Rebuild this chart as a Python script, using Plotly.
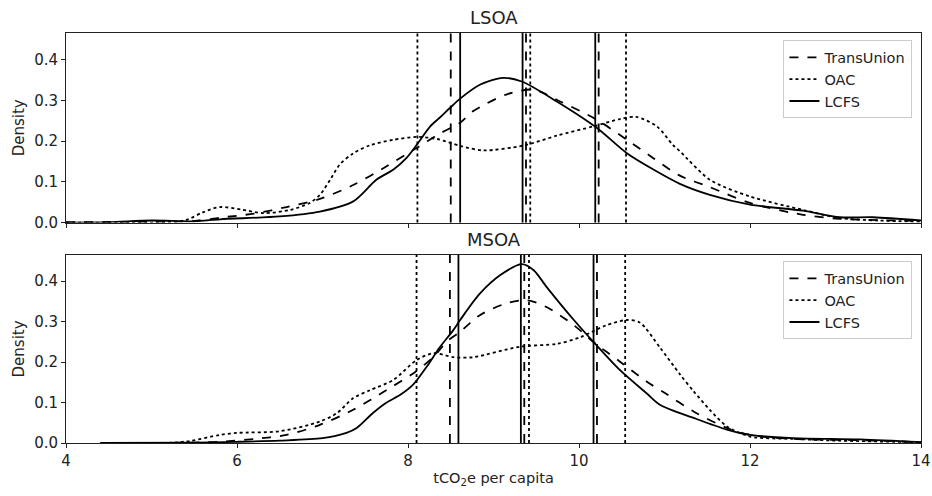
import plotly.graph_objects as go
from plotly.subplots import make_subplots

# ---------------- data ----------------
panels = ["LSOA", "MSOA"]
series_names = ["TransUnion", "OAC", "LCFS"]

# LSOA densities
lsoa_tu_x = [4.0, 5.0, 5.5, 5.8, 6.2, 6.58, 6.97, 7.36, 7.75, 8.10, 8.37, 8.61, 8.76, 9.15, 9.47, 9.78, 10.21, 10.56, 10.87, 11.18, 11.53, 12.0, 12.62, 13.05, 13.5, 14.0]
lsoa_tu_y = [0.001, 0.002, 0.004, 0.012, 0.022, 0.038, 0.058, 0.092, 0.138, 0.183, 0.218, 0.245, 0.273, 0.314, 0.326, 0.297, 0.252, 0.203, 0.158, 0.115, 0.087, 0.048, 0.019, 0.009, 0.006, 0.004]
lsoa_oac_x = [4.0, 5.0, 5.4, 5.6, 5.8, 6.05, 6.31, 6.62, 6.85, 6.97, 7.09, 7.2, 7.36, 7.56, 7.83, 8.10, 8.34, 8.61, 8.88, 9.35, 9.74, 10.17, 10.48, 10.67, 10.91, 11.1, 11.18, 11.53, 12.0, 12.62, 13.05, 13.5, 14.0]
lsoa_oac_y = [0.0, 0.0, 0.006, 0.025, 0.038, 0.032, 0.023, 0.031, 0.048, 0.068, 0.105, 0.142, 0.17, 0.19, 0.203, 0.21, 0.205, 0.188, 0.177, 0.189, 0.213, 0.236, 0.254, 0.259, 0.236, 0.19, 0.175, 0.105, 0.064, 0.031, 0.011, 0.005, 0.002]
lsoa_lcfs_x = [4.0, 4.5, 5.0, 5.5, 5.8, 6.5, 6.97, 7.36, 7.63, 7.83, 7.98, 8.10, 8.26, 8.37, 8.49, 8.61, 8.84, 9.11, 9.33, 9.74, 10.21, 10.56, 10.87, 11.18, 11.53, 12.0, 12.62, 13.05, 13.44, 14.0]
lsoa_lcfs_y = [0.0, 0.001, 0.005, 0.003, 0.008, 0.015, 0.027, 0.052, 0.105, 0.13, 0.158, 0.19, 0.236, 0.257, 0.281, 0.304, 0.338, 0.355, 0.346, 0.297, 0.232, 0.17, 0.13, 0.095, 0.068, 0.044, 0.029, 0.013, 0.013, 0.005]

# MSOA densities
msoa_tu_x = [4.4, 5.5, 5.8, 6.2, 6.58, 6.97, 7.36, 7.75, 8.06, 8.30, 8.45, 8.61, 8.84, 9.15, 9.39, 9.62, 9.94, 10.19, 10.48, 10.79, 11.0, 11.34, 11.73, 12.0, 12.51, 13.3, 14.0]
msoa_tu_y = [0.0, 0.001, 0.003, 0.01, 0.02, 0.045, 0.082, 0.131, 0.172, 0.213, 0.25, 0.275, 0.316, 0.345, 0.353, 0.336, 0.291, 0.246, 0.201, 0.152, 0.124, 0.078, 0.037, 0.02, 0.01, 0.007, 0.002]
msoa_oac_x = [5.2, 5.45, 5.8, 6.0, 6.5, 6.97, 7.17, 7.36, 7.56, 7.83, 8.10, 8.30, 8.53, 8.76, 9.31, 9.74, 10.01, 10.32, 10.56, 10.71, 10.95, 11.18, 11.34, 11.53, 11.73, 12.0, 12.51, 13.0, 14.0]
msoa_oac_y = [0.0, 0.005, 0.02, 0.025, 0.029, 0.053, 0.074, 0.111, 0.131, 0.156, 0.205, 0.222, 0.212, 0.212, 0.238, 0.245, 0.261, 0.291, 0.304, 0.298, 0.235, 0.17, 0.128, 0.082, 0.041, 0.016, 0.01, 0.006, 0.002]
msoa_lcfs_x = [4.43, 5.5, 6.0, 6.5, 7.0, 7.28, 7.40, 7.59, 7.75, 7.91, 8.06, 8.22, 8.37, 8.53, 8.61, 8.84, 9.08, 9.33, 9.47, 9.62, 9.94, 10.19, 10.48, 10.79, 10.95, 11.34, 11.73, 12.0, 12.51, 13.29, 14.0]
msoa_lcfs_y = [0.0, 0.001, 0.003, 0.006, 0.012, 0.025, 0.037, 0.074, 0.10, 0.119, 0.144, 0.189, 0.236, 0.279, 0.304, 0.369, 0.415, 0.442, 0.427, 0.386, 0.304, 0.245, 0.18, 0.123, 0.094, 0.062, 0.033, 0.02, 0.012, 0.009, 0.002]

# quartile lines (Q1, median, Q3) per series
lsoa_quart = {"TransUnion": [8.50, 9.38, 10.23], "OAC": [8.11, 9.43, 10.55], "LCFS": [8.61, 9.34, 10.19]}
msoa_quart = {"TransUnion": [8.49, 9.36, 10.21], "OAC": [8.10, 9.415, 10.54], "LCFS": [8.59, 9.32, 10.17]}

x_ticks = [4, 6, 8, 10, 12, 14]
y_ticks = [0.0, 0.1, 0.2, 0.3, 0.4]

# ---------------- figure ----------------
dash_of = {"TransUnion": "dash", "OAC": "dot", "LCFS": "solid"}
FONT = "DejaVu Sans"
TXT = "#222"

fig = make_subplots(rows=2, cols=1, shared_xaxes=True, vertical_spacing=0.08)

data = {
    1: {"TransUnion": (lsoa_tu_x, lsoa_tu_y), "OAC": (lsoa_oac_x, lsoa_oac_y), "LCFS": (lsoa_lcfs_x, lsoa_lcfs_y)},
    2: {"TransUnion": (msoa_tu_x, msoa_tu_y), "OAC": (msoa_oac_x, msoa_oac_y), "LCFS": (msoa_lcfs_x, msoa_lcfs_y)},
}
quarts = {1: lsoa_quart, 2: msoa_quart}

for row in (1, 2):
    for name in series_names:
        xs, ys = data[row][name]
        fig.add_trace(go.Scatter(
            x=xs, y=ys, mode="lines", name=name,
            line=dict(color="black", width=1.8, dash=dash_of[name], shape="spline", smoothing=0.8),
            legend="legend" if row == 1 else "legend2",
        ), row=row, col=1)
    for name in series_names:
        for q in quarts[row][name]:
            fig.add_shape(type="line", x0=q, x1=q, y0=0, y1=1,
                          xref="x" if row == 1 else "x2",
                          yref="y domain" if row == 1 else "y2 domain",
                          line=dict(color="black", width=1.8, dash=dash_of[name]))

axis_common = dict(showline=True, linecolor=TXT, linewidth=1, mirror=True, automargin=False,
                   ticks="outside", ticklen=4, tickcolor=TXT, showgrid=False, zeroline=False,
                   tickfont=dict(family=FONT, size=15, color=TXT))

fig.update_xaxes(range=[4, 14], tickvals=x_ticks, **axis_common)
fig.update_xaxes(showticklabels=False, row=1, col=1)
fig.update_xaxes(title=dict(text="tCO<sub>2</sub>e per capita", font=dict(family=FONT, size=14.5, color=TXT), standoff=3), row=2, col=1)
fig.update_yaxes(range=[0, 0.465], tickvals=y_ticks, tickformat=".1f",
                 title=dict(text="Density", font=dict(family=FONT, size=15, color=TXT), standoff=5),
                 **axis_common)

top_dom = [0.5377, 1.0]
bot_dom = [0.0, 0.4589]
fig.update_layout(
    width=932, height=496,
    margin=dict(l=66, r=11, t=33, b=53),
    plot_bgcolor="white", paper_bgcolor="white",
    font=dict(family=FONT, color=TXT),
    yaxis=dict(domain=top_dom),
    yaxis2=dict(domain=bot_dom),
    legend=dict(x=0.99, y=0.982, xanchor="right", yanchor="top",
                bgcolor="rgba(255,255,255,0.85)", bordercolor="#ccc", borderwidth=1,
                font=dict(family=FONT, size=14.5, color=TXT), tracegroupgap=0),
    legend2=dict(x=0.99, y=0.443, xanchor="right", yanchor="top",
                 bgcolor="rgba(255,255,255,0.85)", bordercolor="#ccc", borderwidth=1,
                 font=dict(family=FONT, size=14.5, color=TXT), tracegroupgap=0),
    showlegend=True,
)

for title, dom in zip(panels, [top_dom, bot_dom]):
    fig.add_annotation(text=title, x=0.5, y=dom[1], xref="paper", yref="paper",
                       xanchor="center", yanchor="bottom", yshift=3, showarrow=False,
                       font=dict(family=FONT, size=18, color=TXT))

fig.write_html("out.html")
